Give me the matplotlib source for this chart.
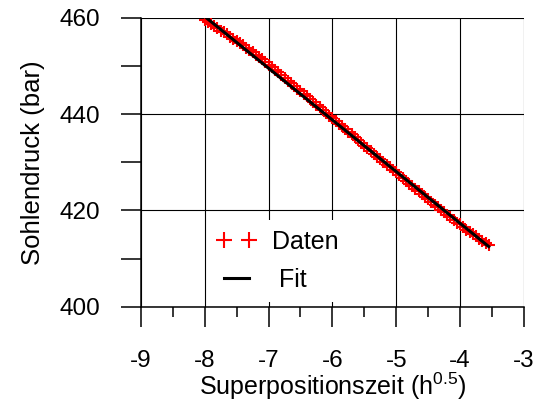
import matplotlib
matplotlib.use("Agg")
import matplotlib.pyplot as plt
from matplotlib.ticker import MultipleLocator

plt.rcParams['font.family'] = ['Liberation Sans', 'DejaVu Sans']
plt.rcParams['mathtext.fontset'] = 'custom'
plt.rcParams['mathtext.rm'] = 'Liberation Sans'
plt.rcParams['mathtext.it'] = 'Liberation Sans'
plt.rcParams['axes.unicode_minus'] = False

zeit = [-8.00, -7.95, -7.90, -7.85, -7.80, -7.75, -7.70, -7.65, -7.60, -7.55,
        -7.50, -7.45, -7.40, -7.35, -7.30, -7.25, -7.20, -7.15, -7.10, -7.05,
        -7.00, -6.95, -6.90, -6.85, -6.80, -6.75, -6.70, -6.65, -6.60, -6.55,
        -6.50, -6.45, -6.40, -6.35, -6.30, -6.25, -6.20, -6.15, -6.10, -6.05,
        -6.00, -5.95, -5.90, -5.85, -5.80, -5.75, -5.70, -5.65, -5.60, -5.55,
        -5.50, -5.45, -5.40, -5.35, -5.30, -5.25, -5.20, -5.15, -5.10, -5.05,
        -5.00, -4.95, -4.90, -4.85, -4.80, -4.75, -4.70, -4.65, -4.60, -4.55,
        -4.50, -4.45, -4.40, -4.35, -4.30, -4.25, -4.20, -4.15, -4.10, -4.05,
        -4.00, -3.95, -3.90, -3.85, -3.80, -3.75, -3.70, -3.65, -3.60, -3.55]
druck = [459.6, 459.2, 458.7, 458.3, 457.9, 457.4, 457.0, 456.6, 456.1, 455.7,
         455.3, 454.8, 454.3, 453.8, 453.3, 452.9, 452.3, 451.9, 451.4, 450.8,
         450.3, 449.8, 449.2, 448.7, 448.2, 447.6, 447.0, 446.5, 445.9, 445.3,
         444.8, 444.2, 443.7, 443.1, 442.5, 442.0, 441.4, 440.9, 440.3, 439.7,
         439.2, 438.6, 438.0, 437.5, 437.0, 436.3, 435.8, 435.2, 434.6, 434.1,
         433.5, 432.9, 432.4, 431.8, 431.2, 430.7, 430.1, 429.5, 429.0, 428.4,
         427.9, 427.3, 426.7, 426.2, 425.6, 425.1, 424.5, 424.0, 423.4, 422.8,
         422.3, 421.8, 421.2, 420.7, 420.2, 419.6, 419.1, 418.6, 418.1, 417.5,
         417.1, 416.6, 416.0, 415.5, 415.1, 414.6, 414.1, 413.7, 413.2, 412.8]

# Fit-Gerade
fit_zeit = [-8.0, -3.55]
fit_druck = [460.3, 412.5]

fig = plt.figure(figsize=(5.44, 4.07), dpi=100)
ax = fig.add_axes([0.259, 0.2464, 0.704, 0.7094])

ax.plot(zeit, druck, '+', color='red', ms=8, mew=1.5, ls='none', label='Daten', zorder=3)
ax.plot(fit_zeit, fit_druck, '-', color='black', lw=2.2, label=' Fit', zorder=4)

ax.set_xlim(-9, -3)
ax.set_ylim(400, 460)
ax.xaxis.set_major_locator(MultipleLocator(1))
ax.xaxis.set_minor_locator(MultipleLocator(0.5))
ax.yaxis.set_major_locator(MultipleLocator(20))
ax.yaxis.set_minor_locator(MultipleLocator(10))

ax.grid(True, which='major', color='black', lw=0.8)
ax.set_axisbelow(True)
for s in ['top', 'right']:
    ax.spines[s].set_visible(False)
for s in ['left', 'bottom']:
    ax.spines[s].set_linewidth(1.1)

ax.tick_params(axis='both', which='major', direction='out', length=14.4, width=1.1,
               labelsize=17.5)
ax.tick_params(axis='x', which='major', pad=17)
ax.tick_params(axis='y', which='major', pad=15)
ax.tick_params(axis='x', which='minor', direction='out', length=7.2, width=1.1)
ax.tick_params(axis='y', which='minor', direction='out', length=14.4, width=1.1)

ax.set_xlabel('Superpositionszeit (h$^{0.5}$)', fontsize=18, labelpad=-1)
ax.set_ylabel('Sohlendruck (bar)', fontsize=18.5, labelpad=10)

leg = ax.legend(loc='upper left', bbox_to_anchor=(0.172, 0.30), borderaxespad=0,
                fontsize=18, numpoints=2, markerscale=1.45, handlelength=1.6,
                handletextpad=0.6, labelspacing=0.55, frameon=True, fancybox=False,
                framealpha=1)
leg.get_frame().set_edgecolor('none')
leg.get_frame().set_facecolor('white')

fig.savefig('out.png', dpi=100)
